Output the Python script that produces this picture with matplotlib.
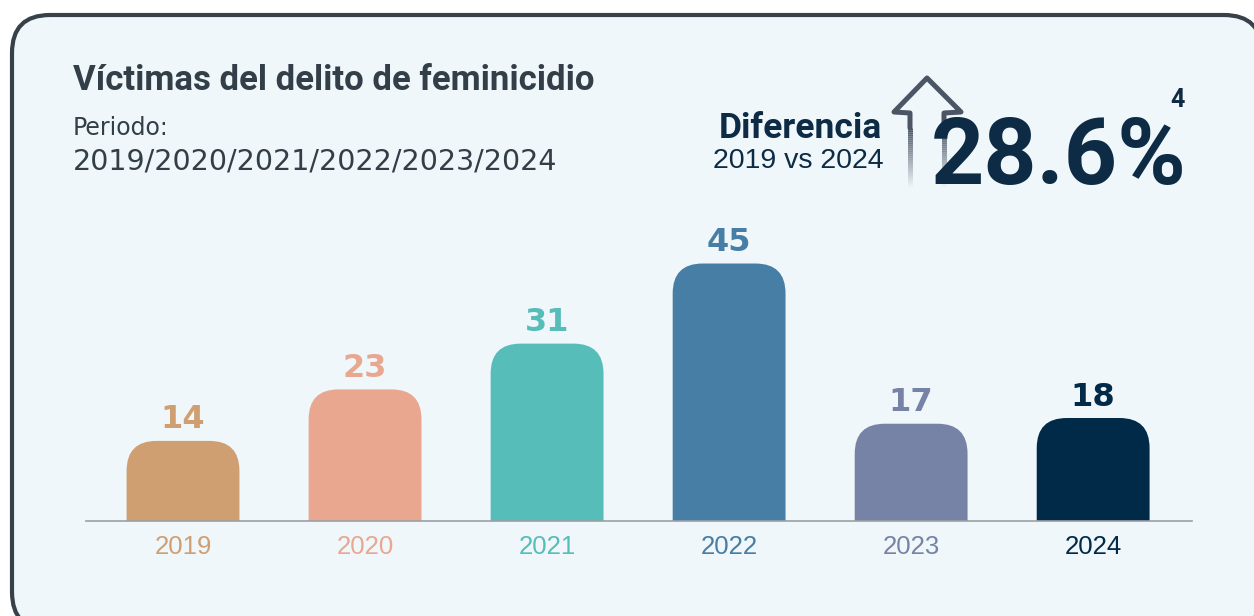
"""Feminicide victims per year, card-style bar chart."""

import matplotlib.pyplot as plt
import numpy as np
from matplotlib.patches import FancyBboxPatch

years = ["2019", "2020", "2021", "2022", "2023", "2024"]
victims = [14, 23, 31, 45, 17, 18]
bar_colors = ["#cf9f72", "#e9a790", "#56bdb9", "#467ea6", "#7783a6", "#002a47"]

title = "Víctimas del delito de feminicidio"
period_label = "Periodo:"
period_years = "/".join(years)
diff_label = "Diferencia"
diff_compare = f"{years[0]} vs {years[-1]}"
diff_value = "28.6%"
footnote = "4"

W, H = 1254, 616
NAVY = "#0d2b45"
SLATE = "#333f48"

fig = plt.figure(figsize=(W / 100, H / 100), dpi=100)
fig.patch.set_facecolor("white")

# decoration layer, in pixel units (y grows downward)
deco = fig.add_axes([0, 0, 1, 1])
deco.set_xlim(0, W)
deco.set_ylim(H, 0)
deco.axis("off")
deco.add_patch(FancyBboxPatch((12, 15), 1250, 615, boxstyle="round,pad=0,rounding_size=38",
                              fc="#eff7fa", ec="#36414a", lw=3))

# up arrow outline, fading towards the bottom
ac = "#4b5565"
head = [(910, 128), (910, 113), (894, 112), (927, 78), (961, 112), (944, 113), (944, 128)]
hx, hy = zip(*head)
deco.plot(hx, hy, color=ac, lw=3.6, solid_joinstyle="round", solid_capstyle="round")
ys = np.linspace(128, 188, 31)
for y0, y1, a in zip(ys[:-1], ys[1:], np.linspace(1, 0, 30)):
    for sx in (910, 944):
        deco.plot([sx, sx], [y0, y1], color=ac, lw=3.6, alpha=a, solid_capstyle="butt")

deco.text(73, 90, title, fontsize=25, fontweight="bold", color=SLATE, family="Roboto")
deco.text(73, 135, period_label, fontsize=17, color=SLATE, family="DejaVu Sans")
deco.text(73, 169, period_years, fontsize=20.5, color=SLATE, family="DejaVu Sans")
deco.text(882, 138, diff_label, fontsize=25.5, fontweight="bold", color=NAVY, ha="right", family="Roboto")
deco.text(884, 168, diff_compare, fontsize=20.5, color=NAVY, ha="right", family="Liberation Sans")
deco.text(931, 184, diff_value, fontsize=67, fontweight="bold", color=NAVY, family="Roboto")
deco.text(1178, 107, footnote, fontsize=18, fontweight="bold", color=NAVY, ha="center", family="Roboto")

# bar chart
ax = fig.add_axes([86 / W, (H - 521) / H, 1106 / W, 321 / H])
ax.set_facecolor("none")
x = np.arange(len(years))
ax.set_xlim(-0.533, 5.543)
ax.set_ylim(0, 56.1)
bars = ax.bar(x, victims, width=0.62, color=bar_colors)

px_x = 1106 / (5.543 + 0.533)
px_y = 321 / 56.1
radius = 30
for rect, c in zip(bars, bar_colors):
    bx, bw, bh = rect.get_x(), rect.get_width(), rect.get_height()
    rect.remove()
    ax.add_patch(FancyBboxPatch((bx, -10), bw, bh + 10,
                                boxstyle=f"round,pad=0,rounding_size={radius / px_x}",
                                mutation_aspect=px_x / px_y, fc=c, ec="none"))

for xi, v, c in zip(x, victims, bar_colors):
    ax.annotate(str(v), (xi, v), xytext=(0, 9), textcoords="offset points", ha="center",
                va="baseline", fontsize=23, fontweight="bold", color=c, family="DejaVu Sans")

ax.set_xticks(x, years, fontsize=18.5, family="Liberation Sans")
for lbl, c in zip(ax.get_xticklabels(), bar_colors):
    lbl.set_color(c)
ax.tick_params(axis="x", length=0, pad=10)
ax.set_yticks([])
for side in ("left", "right", "top"):
    ax.spines[side].set_visible(False)
ax.spines["bottom"].set_color("#9aa0a5")
ax.spines["bottom"].set_linewidth(1.2)

fig.savefig("out.png", dpi=100)
